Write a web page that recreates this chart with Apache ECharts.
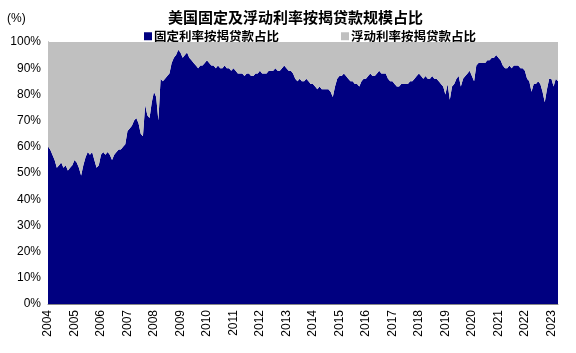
<!DOCTYPE html>
<html>
<head>
<meta charset="utf-8">
<script src="https://cdn.jsdelivr.net/npm/echarts@6/dist/echarts.min.js"></script>
<style>
  html, body { margin: 0; padding: 0; background: #fff; }
  #chart { width: 576px; height: 353px; }
</style>
</head>
<body>
<div id="chart"></div>
<script>
// 固定利率按揭贷款占比 (%), 按月读取
var fixed2004 = [60, 59, 57, 55, 52, 53, 54, 52, 53, 51, 52, 53];
var fixed2005 = [55, 54, 52, 49, 53, 56, 58, 57, 58, 55, 52, 53];
var fixed2006 = [57, 58, 57, 58, 57, 55, 57, 58, 59, 59, 60, 61];
var fixed2007 = [66, 67, 68, 70, 71, 69, 65, 64, 76, 72, 71, 77];
var fixed2008 = [81, 79, 70, 86, 85, 86, 87, 88, 92, 94, 95, 97];
var fixed2009 = [96, 94, 95, 96, 94, 93, 92, 91, 90, 91, 91, 92];
var fixed2010 = [93, 92, 91, 91, 90, 91, 90, 90, 91, 90, 90, 89];
var fixed2011 = [90, 89, 88, 88, 88, 87, 88, 88, 87, 87, 88, 88];
var fixed2012 = [89, 88, 88, 88, 89, 89, 89, 90, 89, 89, 90, 91];
var fixed2013 = [90, 89, 89, 88, 86, 85, 86, 85, 85, 86, 85, 84];
var fixed2014 = [84, 83, 82, 83, 82, 82, 82, 82, 81, 79, 83, 86];
var fixed2015 = [87, 87, 88, 87, 86, 85, 85, 84, 84, 83, 85, 86];
var fixed2016 = [86, 87, 88, 87, 87, 88, 89, 88, 88, 88, 86, 85];
var fixed2017 = [85, 84, 83, 83, 84, 84, 84, 84, 85, 85, 86, 87];
var fixed2018 = [88, 87, 86, 87, 86, 86, 87, 86, 86, 85, 84, 83];
var fixed2019 = [80, 84, 78, 83, 84, 86, 87, 83, 86, 87, 88, 89];
var fixed2020 = [87, 85, 91, 92, 92, 92, 92, 93, 93, 94, 94, 95];
var fixed2021 = [94, 93, 91, 90, 90, 91, 90, 91, 91, 91, 90, 90];
var fixed2022 = [89, 86, 85, 81, 84, 84, 85, 84, 81, 77, 82, 86];
var fixed2023 = [86, 83, 86, 85];

var years = [];
for (var y = 2004; y <= 2023; y++) years.push(y);

var fixedByYear = [fixed2004, fixed2005, fixed2006, fixed2007, fixed2008, fixed2009,
  fixed2010, fixed2011, fixed2012, fixed2013, fixed2014, fixed2015, fixed2016,
  fixed2017, fixed2018, fixed2019, fixed2020, fixed2021, fixed2022, fixed2023];

var months = [];
var fixedShare = [];
var floatShare = [];
fixedByYear.forEach(function (arr, i) {
  arr.forEach(function (v, m) {
    months.push(years[i] + '-' + (m < 9 ? '0' : '') + (m + 1));
    fixedShare.push(v);
    floatShare.push(100 - v);
  });
});

var isJan = function (idx, val) { return val.slice(5) === '01'; };

var chart = echarts.init(document.getElementById('chart'));
chart.setOption({
  animation: false,
  textStyle: { fontFamily: 'Liberation Sans, "Noto Sans CJK SC", sans-serif' },
  title: {
    text: '美国固定及浮动利率按揭贷款规模占比',
    left: 163, top: 5,
    textStyle: { fontSize: 15, fontWeight: 'bold', color: '#000',
      fontFamily: '"Noto Sans CJK SC", sans-serif' }
  },
  graphic: [{
    type: 'text', left: 7, top: 13,
    style: { text: '(%)', fontSize: 12, fill: '#000', fontFamily: 'Liberation Sans' }
  }],
  legend: {
    left: 139, top: 25,
    itemWidth: 8, itemHeight: 8, itemGap: 62,
    icon: 'rect',
    textStyle: { fontSize: 12.5, color: '#000', fontWeight: 'bold', padding: [0, 0, 0, -3],
      fontFamily: '"Noto Sans CJK SC", sans-serif' },
    data: ['固定利率按揭贷款占比', '浮动利率按揭贷款占比']
  },
  grid: { left: 48, right: 18, top: 42, bottom: 49 },
  xAxis: {
    type: 'category',
    data: months,
    boundaryGap: false,
    axisLine: { lineStyle: { color: '#888' } },
    axisTick: { interval: isJan, inside: true, length: 3, lineStyle: { color: '#ccc' } },
    axisLabel: {
      interval: isJan, rotate: 90, margin: 6,
      fontSize: 12, color: '#000',
      formatter: function (v) { return v.slice(0, 4); }
    },
    splitLine: { show: false }
  },
  yAxis: {
    type: 'value',
    min: 0, max: 100, interval: 10,
    axisLine: { show: true, lineStyle: { color: '#888' } },
    axisTick: { show: false },
    axisLabel: { fontSize: 12, color: '#000', margin: 7, formatter: '{value}%' },
    splitLine: { show: false }
  },
  series: [
    {
      name: '固定利率按揭贷款占比',
      type: 'line', stack: 'total',
      data: fixedShare,
      symbol: 'none',
      lineStyle: { width: 0 },
      itemStyle: { color: '#000080' },
      areaStyle: { color: '#000080', opacity: 1 }
    },
    {
      name: '浮动利率按揭贷款占比',
      type: 'line', stack: 'total',
      data: floatShare,
      symbol: 'none',
      lineStyle: { width: 0 },
      itemStyle: { color: '#c0c0c0' },
      areaStyle: { color: '#c0c0c0', opacity: 1 }
    }
  ]
});
</script>
</body>
</html>
